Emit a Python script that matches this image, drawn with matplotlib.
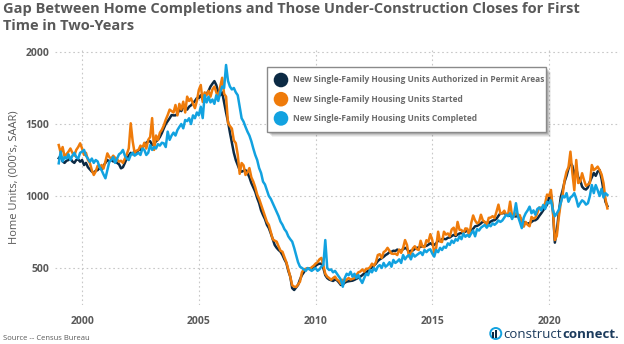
import numpy as np
import matplotlib
matplotlib.use("Agg")
import matplotlib.pyplot as plt
from matplotlib.patches import Rectangle, Circle

plt.rcParams["font.family"] = ["Open Sans", "DejaVu Sans"]

# Monthly SAAR, thousands of units, Jan 1999 - Jul 2022
permits = [
    1262, 1280, 1240, 1230, 1245, 1250, 1262, 1240, 1230, 1250, 1255, 1238,  # 1999
    1250, 1215, 1230, 1200, 1185, 1170, 1160, 1175, 1180, 1195, 1185, 1210,  # 2000
    1230, 1250, 1240, 1250, 1240, 1245, 1230, 1220, 1192, 1200, 1230, 1262,  # 2001
    1280, 1300, 1290, 1310, 1300, 1320, 1320, 1340, 1350, 1370, 1380, 1380,  # 2002
    1354, 1360, 1380, 1390, 1410, 1437, 1470, 1500, 1520, 1540, 1562, 1560,  # 2003
    1560, 1570, 1600, 1590, 1620, 1610, 1600, 1620, 1630, 1645, 1660, 1680,  # 2004
    1680, 1700, 1670, 1690, 1710, 1730, 1760, 1780, 1798, 1770, 1720, 1700,  # 2005
    1720, 1650, 1580, 1516, 1440, 1370, 1300, 1250, 1215, 1180, 1169, 1175,  # 2006
    1180, 1160, 1130, 1090, 1060, 1030, 986, 950, 900, 868, 840, 800,  # 2007
    777, 740, 700, 660, 640, 625, 613, 590, 560, 535, 480, 440,  # 2008
    360, 347, 365, 382, 420, 451, 470, 490, 498, 495, 500, 505,  # 2009
    515, 525, 530, 530, 500, 450, 430, 420, 415, 410, 420, 415,  # 2010
    400, 382, 385, 398, 405, 408, 410, 412, 418, 425, 432, 440,  # 2011
    450, 462, 470, 480, 492, 505, 518, 530, 548, 560, 568, 578,  # 2012
    590, 598, 610, 612, 620, 618, 628, 620, 622, 630, 640, 632,  # 2013
    612, 620, 622, 632, 640, 642, 648, 650, 652, 654, 662, 672,  # 2014
    662, 660, 672, 690, 688, 700, 702, 700, 710, 712, 722, 730,  # 2015
    722, 732, 740, 742, 750, 752, 762, 752, 762, 772, 790, 792,  # 2016
    800, 810, 822, 818, 812, 810, 822, 830, 832, 842, 862, 880,  # 2017
    880, 882, 872, 868, 862, 858, 860, 858, 862, 852, 832, 818,  # 2018
    812, 808, 812, 820, 830, 832, 842, 862, 880, 900, 920, 940,  # 2019
    990, 1010, 900, 676, 760, 880, 990, 1040, 1100, 1140, 1190, 1230,  # 2020
    1210, 1140, 1190, 1130, 1110, 1065, 1050, 1045, 1060, 1100, 1130, 1160,  # 2021
    1140, 1170, 1180, 1120, 1040, 960, 930,  # 2022
]

starts = [
    1354, 1300, 1340, 1273, 1290, 1308, 1330, 1300, 1280, 1320, 1340, 1366,  # 1999
    1330, 1285, 1300, 1250, 1230, 1180, 1146, 1170, 1210, 1200, 1215, 1190,  # 2000
    1240, 1296, 1270, 1260, 1280, 1265, 1255, 1238, 1245, 1230, 1260, 1290,  # 2001
    1331, 1505, 1380, 1300, 1315, 1320, 1350, 1333, 1370, 1330, 1390, 1410,  # 2002
    1541, 1320, 1420, 1389, 1440, 1460, 1490, 1530, 1562, 1600, 1590, 1580,  # 2003
    1632, 1560, 1640, 1600, 1655, 1580, 1690, 1660, 1678, 1640, 1610, 1660,  # 2004
    1736, 1771, 1653, 1720, 1700, 1730, 1690, 1740, 1760, 1720, 1680, 1760,  # 2005
    1821, 1710, 1690, 1507, 1486, 1468, 1386, 1367, 1287, 1154, 1229, 1213,  # 2006
    1146, 1165, 1194, 1130, 1100, 1060, 1010, 980, 940, 900, 860, 820,  # 2007
    799, 750, 700, 690, 683, 650, 620, 613, 575, 540, 490, 440,  # 2008
    380, 370, 368, 385, 405, 470, 490, 495, 498, 490, 505, 515,  # 2009
    530, 540, 560, 570, 520, 460, 440, 430, 418, 430, 440, 420,  # 2010
    410, 390, 418, 408, 420, 430, 420, 425, 430, 450, 470, 475,  # 2011
    490, 475, 495, 495, 505, 530, 516, 540, 590, 596, 570, 610,  # 2012
    620, 640, 620, 600, 598, 600, 590, 628, 605, 640, 694, 660,  # 2013
    580, 600, 636, 651, 631, 625, 689, 648, 644, 693, 682, 735,  # 2014
    694, 600, 640, 752, 684, 680, 752, 732, 740, 720, 768, 780,  # 2015
    730, 820, 765, 764, 740, 775, 773, 720, 811, 865, 830, 810,  # 2016
    818, 870, 830, 820, 795, 848, 850, 860, 847, 891, 940, 878,  # 2017
    880, 898, 870, 875, 961, 860, 863, 880, 870, 866, 819, 787,  # 2018
    820, 800, 790, 855, 842, 850, 882, 920, 918, 925, 950, 1010,  # 2019
    1000, 1042, 900, 694, 723, 850, 950, 1010, 1110, 1169, 1200, 1308,  # 2020
    1160, 1040, 1250, 1090, 1100, 1158, 1110, 1070, 1080, 1090, 1215, 1180,  # 2021
    1190, 1204, 1180, 1150, 1090, 980, 914,  # 2022
]

completions = [
    1227, 1308, 1240, 1270, 1260, 1290, 1250, 1280, 1300, 1270, 1260, 1300,  # 1999
    1308, 1320, 1280, 1260, 1238, 1260, 1230, 1250, 1240, 1200, 1180, 1150,  # 2000
    1123, 1180, 1238, 1250, 1270, 1230, 1260, 1290, 1300, 1320, 1280, 1260,  # 2001
    1250, 1285, 1300, 1280, 1290, 1300, 1285, 1330, 1320, 1285, 1300, 1354,  # 2002
    1320, 1340, 1330, 1360, 1350, 1370, 1366, 1340, 1447, 1390, 1420, 1440,  # 2003
    1420, 1458, 1480, 1500, 1470, 1528, 1520, 1540, 1500, 1560, 1540, 1580,  # 2004
    1560, 1620, 1541, 1700, 1650, 1690, 1650, 1670, 1640, 1700, 1660, 1720,  # 2005
    1760, 1750, 1910, 1800, 1760, 1740, 1750, 1720, 1700, 1620, 1540, 1516,  # 2006
    1480, 1447, 1420, 1380, 1330, 1285, 1250, 1194, 1160, 1100, 1080, 1040,  # 2007
    1000, 980, 950, 920, 891, 860, 822, 800, 770, 752, 720, 700,  # 2008
    683, 640, 590, 540, 509, 500, 490, 480, 500, 490, 480, 490,  # 2009
    500, 480, 490, 510, 520, 694, 500, 486, 490, 470, 480, 460,  # 2010
    440, 420, 370, 430, 460, 450, 474, 440, 460, 430, 451, 420,  # 2011
    396, 430, 460, 450, 486, 470, 500, 480, 510, 520, 500, 535,  # 2012
    509, 520, 540, 509, 556, 535, 545, 560, 535, 590, 560, 580,  # 2013
    590, 560, 600, 579, 590, 600, 610, 590, 625, 610, 625, 630,  # 2014
    600, 579, 625, 610, 640, 625, 648, 640, 671, 660, 690, 674,  # 2015
    700, 690, 720, 700, 740, 717, 730, 717, 740, 760, 720, 770,  # 2016
    760, 780, 790, 799, 780, 800, 790, 810, 800, 812, 830, 820,  # 2017
    830, 850, 870, 860, 880, 840, 870, 950, 860, 820, 777, 850,  # 2018
    880, 900, 926, 880, 900, 870, 910, 920, 900, 938, 910, 960,  # 2019
    950, 970, 900, 860, 880, 903, 950, 1000, 990, 1020, 960, 990,  # 2020
    1000, 1020, 980, 926, 950, 970, 960, 940, 950, 1000, 1076, 1020,  # 2021
    1076, 1040, 1000, 1050, 990, 1020, 1007,  # 2022
]

series_labels = [
    "New Single-Family Housing Units Authorized in Permit Areas",
    "New Single-Family Housing Units Started",
    "New Single-Family Housing Units Completed",
]
series_colors = ["#0c2a44", "#ef7b0a", "#12a2e0"]
x_ticks = [2000, 2005, 2010, 2015, 2020]
y_ticks = [500, 1000, 1500, 2000]

GRIS = "#595959"
LOGO = "#1b3a5c"
W, H = 624, 344

fig = plt.figure(figsize=(W / 100, H / 100), dpi=100)
ax = fig.add_axes([55 / W, 1 - 305 / H, 565 / W, 255 / H])

t = 1999 + np.arange(len(starts)) / 12.0
for vals, col in zip([permits, starts, completions], series_colors):
    ax.plot(t, vals, color=col, lw=1.8, solid_joinstyle="round")

ax.set_xlim(1998.84, 2023.04)
ax.set_ylim(243, 2014)
ax.set_xticks(x_ticks)
ax.set_yticks(y_ticks)
ax.grid(True, color="#c8c8c8", ls=(0, (1.5, 2.5)), lw=0.8)
ax.set_axisbelow(True)
for s in ax.spines.values():
    s.set_visible(False)
ax.tick_params(length=0, labelsize=7.5, labelcolor=GRIS, pad=8)
ax.tick_params(axis="y", pad=4)
for lab in ax.get_xticklabels() + ax.get_yticklabels():
    lab.set_fontweight("bold")
ax.set_ylabel("Home Units, (000's, SAAR)", fontsize=8, color=GRIS, labelpad=4)

# couche en pixels pour titre, légende, source et logo
ov = fig.add_axes([0, 0, 1, 1], facecolor="none")
ov.set_xlim(0, W)
ov.set_ylim(H, 0)
ov.axis("off")

ov.text(3, 2, "Gap Between Home Completions and Those Under-Construction Closes for First\nTime in Two-Years",
        ha="left", va="top", fontsize=10.5, fontweight="bold", color=GRIS, linespacing=1.25)

# légende avec ombre
for k, a in [(5, 0.06), (4, 0.08), (3, 0.1), (2, 0.12)]:
    ov.add_patch(Rectangle((267 + k, 67 + k), 279, 65, facecolor="#000000", alpha=a, lw=0))
ov.add_patch(Rectangle((267, 67), 279, 65, facecolor="white", edgecolor="#8a8a8a", lw=1.0))
for i, (lab, col) in enumerate(zip(series_labels, series_colors)):
    cy = 80 + i * 19.2
    ov.add_patch(Circle((281, cy), 7.3, facecolor=col, edgecolor="none"))
    ov.text(293, cy, lab, ha="left", va="center", fontsize=6, fontweight="bold", color="#6b6b6b")

ov.text(3, 338, "Source -- Census Bureau", ha="left", va="center", fontsize=5.5, color=GRIS)

# logo : "connect." calé à droite, "construct" juste avant
renderer = fig.canvas.get_renderer()
t2 = ov.text(619, 334, "connect.", ha="right", va="center", fontsize=9.5, fontweight="bold", color=LOGO)
bb = t2.get_window_extent(renderer)
x_gauche = W * bb.x0 / fig.bbox.width
t1 = ov.text(x_gauche, 334, "construct", ha="right", va="center", fontsize=9.5, color=LOGO)
bb1 = t1.get_window_extent(renderer)
x_icone = W * bb1.x0 / fig.bbox.width - 8
ov.add_patch(Circle((x_icone, 333.5), 5.5, facecolor="none", edgecolor="#12a2e0", lw=1.4))
ov.add_patch(Rectangle((x_icone - 3.5, 332), 1.6, 6, facecolor=series_colors[0], lw=0))
ov.add_patch(Rectangle((x_icone - 0.5, 330), 1.6, 8, facecolor=series_colors[0], lw=0))

fig.savefig("out.png", dpi=100)
